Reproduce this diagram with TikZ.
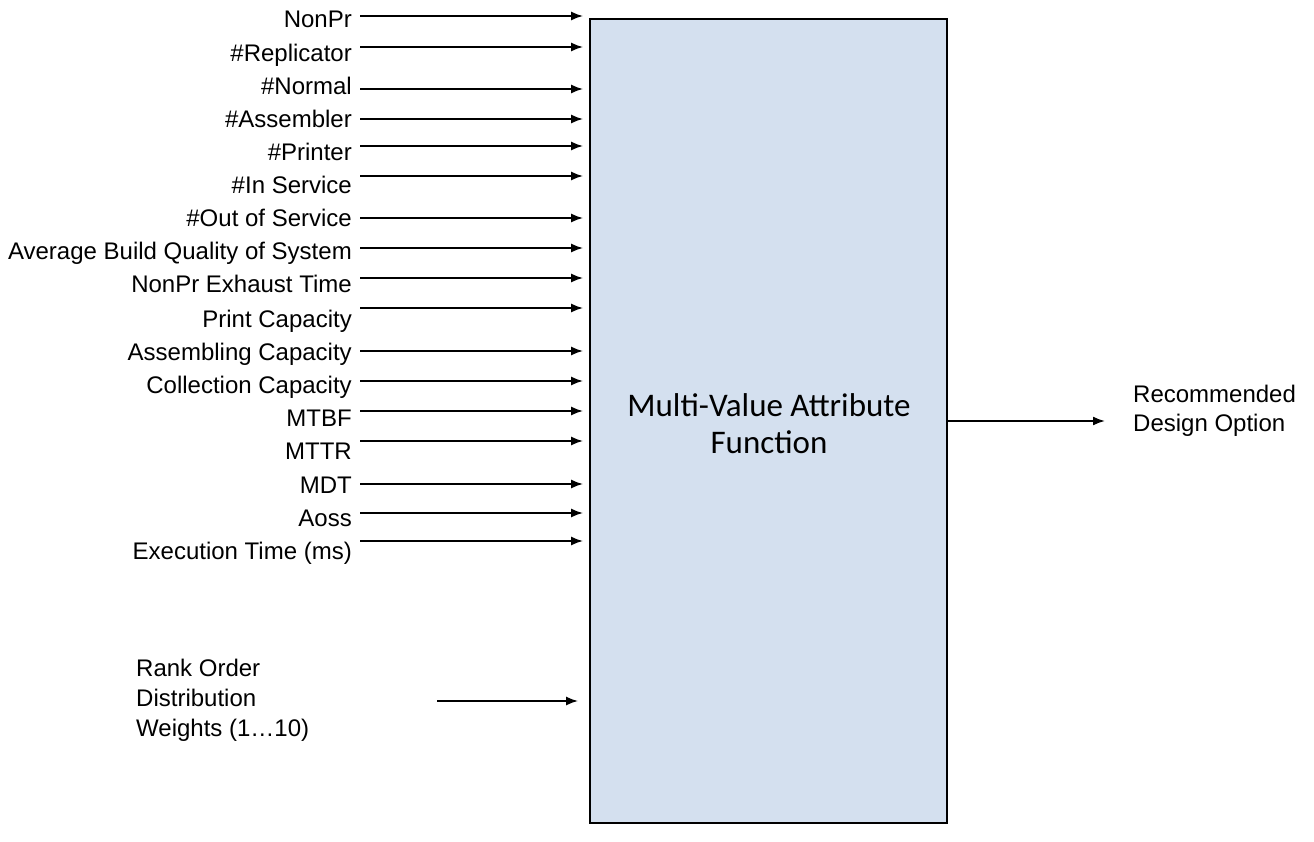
\documentclass[tikz,border=0pt]{standalone}
\usepackage{fontspec}
\setmainfont{Liberation Sans}
\newfontfamily\boxfont{Carlito}
\usetikzlibrary{arrows.meta}
\definecolor{boxfill}{HTML}{D4E0EF}
\tikzset{
  arr/.style={line width=1.8pt,-{Latex[length=12pt,width=9pt]}},
  lbl/.style={anchor=base east,inner sep=0pt,font=\fontsize{24}{28}\selectfont},
  mainbox/.style={draw=black,line width=1.8pt,fill=boxfill,minimum width=357pt,minimum height=804pt,inner sep=0pt}
}
\begin{document}
\begin{tikzpicture}[x=1pt,y=-1pt]
\useasboundingbox (0,0) rectangle (1314,842);
\node[mainbox] (box) at (768.5,421) {};
\node[inner sep=0pt,align=center,font=\boxfont\fontsize{33}{37}\selectfont] (boxtext) at (769,423.5) {Multi-Value Attribute\\Function};
\foreach \i/\t/\b/\a in {
  1/NonPr/28/16,
  2/\#Replicator/62/47,
  3/\#Normal/95/89,
  4/\#Assembler/128/119,
  5/\#Printer/161/146,
  6/\#In Service/194/176,
  7/\#Out of Service/227/218,
  8/Average Build Quality of System/260/248,
  9/NonPr Exhaust Time/293/278,
  10/Print Capacity/327/308,
  11/Assembling Capacity/360/351,
  12/Collection Capacity/393/381,
  13/MTBF/426/411,
  14/MTTR/459/441,
  15/MDT/493/484,
  16/Aoss/526/513,
  17/Execution Time (ms)/559/541}{
  \node[lbl] (l\i) at (352,\b) {\t};
  \draw[arr] ([xshift=8pt]l\i.east |- 0,\a) -- ([xshift=-6pt]box.west |- 0,\a);
}
\node[anchor=west,inner sep=0pt,align=left,font=\fontsize{24}{30}\selectfont] (rank) at (136,700) {Rank Order\\Distribution\\Weights (1\ldots10)};
\coordinate (rs) at (437,701);
\draw[arr] (rs) -- ([xshift=-11pt]box.west |- rs);
\node[anchor=west,inner sep=0pt,align=left,font=\fontsize{24}{29}\selectfont] (rec) at (1133,411) {Recommended\\Design Option};
\draw[arr] (box.east |- 0,421) -- ([xshift=-28pt]rec.west |- 0,421);
\end{tikzpicture}
\end{document}
